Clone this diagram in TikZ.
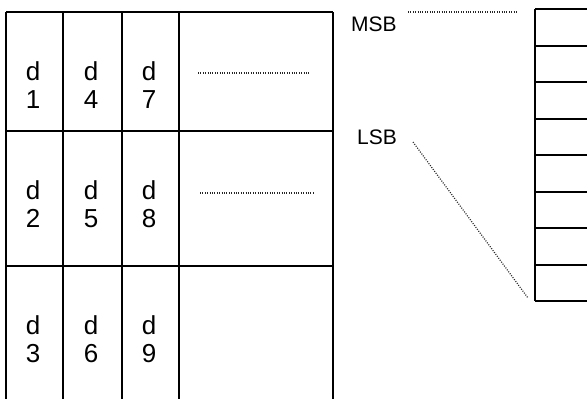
\documentclass[tikz,border=0pt]{standalone}
\usepackage{fontspec}
\setmainfont{Liberation Sans}
\begin{document}
\begin{tikzpicture}[x=1pt,y=-1pt,
  gridline/.style={line width=2pt,black},
  dotline/.style={line width=1.2pt,black!85,dash pattern=on 1pt off 1.4pt},
  cell/.style={font=\fontsize{26}{28}\selectfont,align=center,inner sep=0pt},
  lbl/.style={font=\fontsize{21}{24}\selectfont,inner sep=0pt}]
\useasboundingbox (0,0) rectangle (587,399);
\clip (0,0) rectangle (587,399);
% left grid
\foreach \x in {6,63,122,179,333} \draw[gridline] (\x,12) -- (\x,402);
\foreach \y in {12,131,266} \draw[gridline] (6,\y) -- (333,\y);
% cells
\node[cell] (d1) at (33,85) {d\\1};
\node[cell] (d4) at (91,85) {d\\4};
\node[cell] (d7) at (149,85) {d\\7};
\node[cell] (d2) at (33,204) {d\\2};
\node[cell] (d5) at (91,204) {d\\5};
\node[cell] (d8) at (149,204) {d\\8};
\node[cell] (d3) at (33,339) {d\\3};
\node[cell] (d6) at (91,339) {d\\6};
\node[cell] (d9) at (149,339) {d\\9};
\coordinate (r1a) at (198,73);
\coordinate (r1b) at (310,73);
\coordinate (r2a) at (200,193);
\coordinate (r2b) at (315,193);
\draw[dotline] (r1a) -- (r1b);
\draw[dotline] (r2a) -- (r2b);
% register
\foreach \y in {9,45.5,82,118.5,155,192,228,265,301} \draw[gridline] (535,\y) -- (592,\y);
\draw[gridline] (535,9) -- (535,301);
% labels
\node[lbl] (msb) at (374,24) {MSB};
\node[lbl] (lsb) at (377,137) {LSB};
\coordinate (msbend) at (517,12);
\coordinate (msbstart) at (408,12);
\coordinate (lsbstart) at (413,142);
\coordinate (lsbend) at (528,298);
\draw[dotline] (msbstart) -- (msbend);
\draw[dotline] (lsbstart) -- (lsbend);
\end{tikzpicture}
\end{document}
